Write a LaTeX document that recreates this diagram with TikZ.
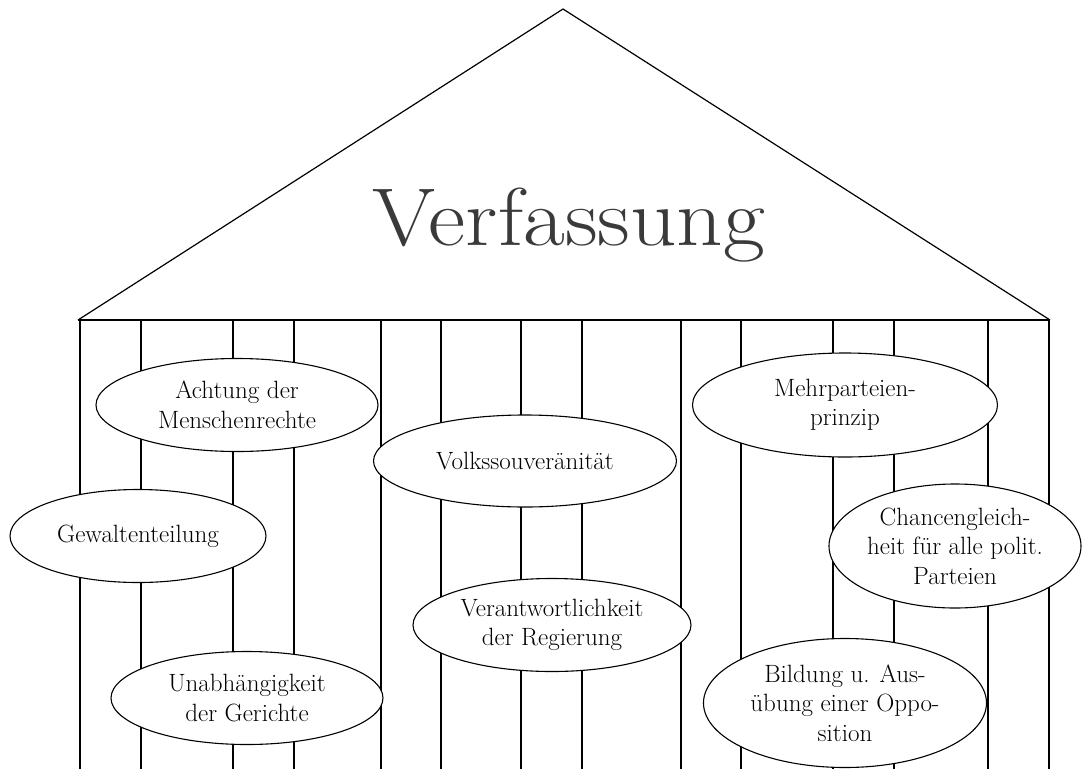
\documentclass[tikz,border=0pt]{standalone}
\usetikzlibrary{shapes.geometric}
\definecolor{roofgray}{HTML}{3A3A3A}

\def\yBase{320}
\def\yFoot{769}

\begin{document}
\begin{tikzpicture}[x=1pt,y=-1pt,
    idea/.style={shape=ellipse,draw=black,line width=1.1pt,fill=white,inner sep=0pt,
                 align=center,font=\fontsize{25}{29.5}\selectfont}]
    \useasboundingbox (0,0) rectangle (1082,769);

    %%   roof   (lable)  (x, y)
    \coordinate (RL) at (78,  \yBase);
    \coordinate (RT) at (563, 9);
    \coordinate (RR) at (1050,\yBase);

    \draw[line width=1.2pt] (RL) -- (RT) -- (RR);
    \draw[line width=2pt] (RL) -- (RR);
    \node[text=roofgray, font=\fontsize{82}{90}\selectfont, anchor=base] (VF) at (569,245) {\scalebox{1.11}[1]{Verfassung}};

    %% pillars
    \foreach \px in {80,141,233,294,381,441,521,582,681,741,833,894,988,1049}
      \draw[line width=1.5pt] (\px,\yBase) -- (\px,\yFoot);

    %% ideas on the pillars
    \node[idea, minimum width=282pt, minimum height=93pt]  (MR) at (237,405) {Achtung der\\Menschenrechte};
    \node[idea, minimum width=256pt, minimum height=93pt]  (GT) at (138,536) {Gewaltenteilung};
    \node[idea, minimum width=272pt, minimum height=93pt]  (UG) at (247,698) {Unabhängigkeit\\der Gerichte};
    \node[idea, minimum width=303pt, minimum height=92pt]  (VS) at (525,461) {Volkssouveränität};
    \node[idea, minimum width=278pt, minimum height=93pt]  (VR) at (552,625) {Verantwortlichkeit\\der Regierung};
    \node[idea, minimum width=305pt, minimum height=104pt] (MP) at (845,405) {Mehrparteien-\\prinzip};
    \node[idea, minimum width=252pt, minimum height=124pt] (CG) at (955,546) {Chancengleich-\\heit für alle polit.\\Parteien};
    \node[idea, minimum width=283pt, minimum height=129pt] (BO) at (845,703) {Bildung u. Aus-\\übung einer Oppo-\\sition};

  \end{tikzpicture}
\end{document}
